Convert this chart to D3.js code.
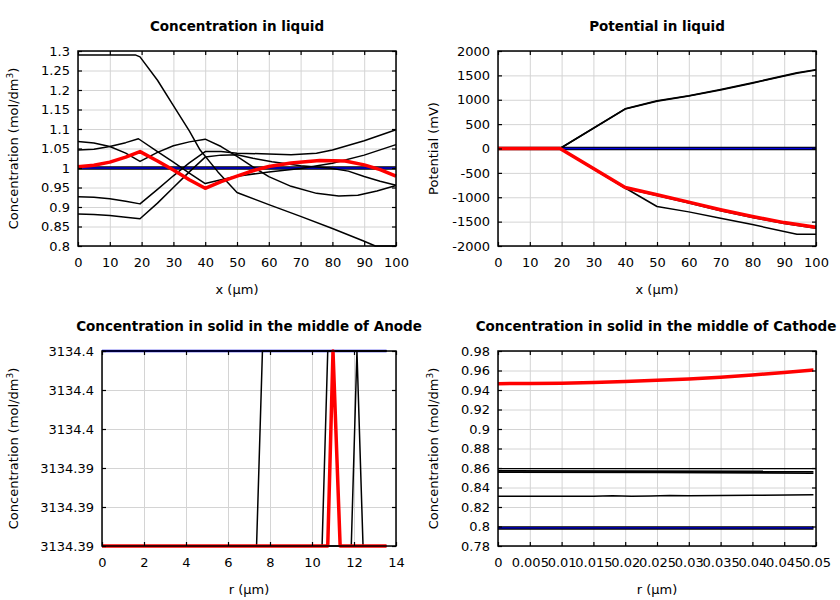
<!DOCTYPE html>
<html><head><meta charset="utf-8">
<script src="https://cdn.jsdelivr.net/npm/d3@7"></script>
<style>
body{margin:0;background:#fff}
text{font-family:"DejaVu Sans",sans-serif;fill:#000}
</style></head>
<body><svg id="c" width="840" height="600"></svg>
<script>
// ---------- Panel 1: Concentration in liquid ----------
const liqX = [0, 10, 20, 30, 40, 50, 60, 70, 80, 90, 100];
const liqTicksY = [0.8, 0.85, 0.9, 0.95, 1, 1.05, 1.1, 1.15, 1.2, 1.25, 1.3];
const liqInitial = [[0, 1], [100, 1]];
const liqA = [[0,1.068],[5,1.064],[10,1.055],[15,1.038],[19.5,1.017],[25,1.04],[30,1.057],[35,1.067],[40,1.074],[45,1.055],[50,1.03],[55,1.003],[60,0.978],[67,0.953],[75,0.935],[82,0.928],[88,0.93],[94,0.941],[100,0.955]];
const liqB = [[0,1.046],[5,1.048],[10,1.055],[15,1.065],[19,1.075],[25,1.042],[30,1.015],[35,0.987],[40,0.96],[45,0.97],[50,0.979],[60,0.99],[70,0.999],[80,1.012],[90,1.033],[100,1.06]];
const liqC = [[0,0.926],[5,0.925],[10,0.921],[15,0.915],[19.5,0.908],[25,0.945],[30,0.98],[35,1.013],[40,1.042],[45,1.042],[50,1.038],[60,1.036],[67,1.034],[75,1.038],[80,1.046],[90,1.07],[100,1.098]];
const liqD = [[0,0.882],[5,0.881],[10,0.878],[15,0.874],[19.5,0.870],[25,0.91],[30,0.95],[35,0.99],[40,1.028],[45,1.033],[50,1.034],[55,1.025],[61,1.016],[70,1.006],[79,1.0],[85,0.992],[90,0.978],[95,0.966],[100,0.956]];
const liqE = [[0,1.29],[18,1.29],[19.5,1.285],[25,1.225],[30,1.16],[35,1.095],[38.4,1.046],[44,0.99],[50,0.937],[51,0.934],[60,0.906],[70,0.876],[80,0.845],[90,0.812],[93.5,0.8],[100,0.8]];
const liqRed = [[0,1.003],[5,1.007],[10,1.015],[15,1.028],[19.5,1.042],[25,1.018],[30,0.995],[35,0.97],[40,0.948],[45,0.965],[50,0.979],[55,0.993],[60,1.004],[67,1.013],[76,1.019],[84,1.018],[90,1.008],[95,0.996],[100,0.979]];

// ---------- Panel 2: Potential in liquid ----------
const potTicksY = [-2000,-1500,-1000,-500,0,500,1000,1500,2000];
const potInitial = [[0,0],[100,0]];
const potUpper = [[0,0],[19.5,0],[40,810],[50,970],[60,1075],[70,1200],[80,1340],[94,1545],[100,1610]];
const potUpper2 = [[0,0],[19.5,0],[40,815],[50,978],[60,1082],[70,1208],[80,1348],[94,1552],[100,1618]];
const potLower = [[0,0],[19.5,0],[40,-810],[50,-1190],[60,-1300],[70,-1430],[80,-1560],[94,-1760],[100,-1760]];
const potUnderRed = [[0,0],[19.5,0],[40,-815],[50,-965],[60,-1120],[70,-1275],[80,-1415],[90,-1540],[100,-1635]];
const potRed = [[0,0],[19.5,0],[40,-800],[50,-950],[60,-1100],[70,-1255],[80,-1395],[90,-1520],[100,-1615]];

// ---------- Panel 3: Anode solid ----------
const anoX = [0, 2, 4, 6, 8, 10, 12, 14];
const anoTicksY = [3134.3944, 3134.3946, 3134.3948, 3134.395, 3134.3952, 3134.3954];
const anoTickLabels = ["3134.39", "3134.39", "3134.39", "3134.4", "3134.4", "3134.4"];
const L = 3134.3944, H = 3134.3954;
const anoBlue = [[0,H],[13.55,H]];
const ano1 = [[0,L],[7.36,L],[7.64,H],[13.55,H]];
const ano2 = [[0,L],[10.48,L],[10.75,H],[13.55,H]];
const ano3 = [[0,L],[11.87,L],[12.14,H],[12.43,L],[13.55,L]];
const anoRed = [[0,L],[10.75,L],[11.0,H],[11.34,L],[13.55,L]];

// ---------- Panel 4: Cathode solid ----------
const catX = [0,0.005,0.01,0.015,0.02,0.025,0.03,0.035,0.04,0.045,0.05];
const catTicksY = [0.78,0.8,0.82,0.84,0.86,0.88,0.9,0.92,0.94,0.96,0.98];
const catRed = [[0,0.9465],[0.005,0.9467],[0.01,0.947],[0.015,0.9477],[0.02,0.9487],[0.025,0.9499],[0.03,0.9514],[0.035,0.9532],[0.04,0.9554],[0.045,0.958],[0.0496,0.9605]];
const cat1 = [[0,0.8593],[0.05,0.8593]];
const cat2 = [[0,0.857],[0.0496,0.8565]];
const cat3 = [[0,0.8558],[0.025,0.8556],[0.0496,0.8548]];
const cat4 = [[0,0.831],[0.015,0.831],[0.018,0.8315],[0.021,0.831],[0.024,0.8314],[0.027,0.8318],[0.03,0.8316],[0.04,0.832],[0.0496,0.8325]];
const catInitial = [[0,0.7985],[0.0496,0.7985]];

const svg = d3.select("#c");

function panel(o){
  const g = svg.append("g").attr("transform",`translate(${o.x},${o.y})`);
  const w=o.w,h=o.h;
  const xs=d3.scaleLinear().domain(o.xd).range([0,w]);
  const ys=d3.scaleLinear().domain(o.yd).range([h,0]);
  // grid
  g.append("g").attr("transform",`translate(0,${h})`)
    .call(d3.axisBottom(xs).tickValues(o.xt).tickSize(-h).tickFormat(""))
    .call(a=>{a.select(".domain").remove();a.selectAll("line").attr("stroke","#d4d4d4");});
  g.append("g")
    .call(d3.axisLeft(ys).tickValues(o.yt).tickSize(-w).tickFormat(""))
    .call(a=>{a.select(".domain").remove();a.selectAll("line").attr("stroke","#d4d4d4");});
  // lines
  const line=d3.line().x(d=>xs(d[0])).y(d=>ys(d[1]));
  o.series.forEach(s=>{
    g.append("path").datum(s.d).attr("d",line).attr("fill","none")
     .attr("stroke",s.c).attr("stroke-width",s.w).attr("stroke-linejoin","round");
  });
  // axes with inward ticks
  const fs="13px";
  g.append("g").attr("transform",`translate(0,${h})`)
    .call(d3.axisBottom(xs).tickValues(o.xt).tickSize(-4).tickPadding(12).tickFormat(o.xf))
    .call(a=>{a.select(".domain").remove();a.selectAll("line").attr("stroke","#000").attr("stroke-width",1.2);
      a.selectAll("text").style("font-size",fs).style("font-family","DejaVu Sans").attr("fill","#000");});
  g.append("g")
    .call(d3.axisLeft(ys).tickValues(o.yt).tickSize(-4).tickPadding(8).tickFormat(o.yf))
    .call(a=>{a.select(".domain").remove();a.selectAll("line").attr("stroke","#000").attr("stroke-width",1.2);
      a.selectAll("text").style("font-size",fs).style("font-family","DejaVu Sans").attr("fill","#000");});
  g.append("g")
    .call(d3.axisTop(xs).tickValues(o.xt).tickSize(-4).tickFormat(""))
    .call(a=>{a.select(".domain").remove();a.selectAll("line").attr("stroke","#000").attr("stroke-width",1.2);});
  g.append("g").attr("transform",`translate(${w},0)`)
    .call(d3.axisRight(ys).tickValues(o.yt).tickSize(-4).tickFormat(""))
    .call(a=>{a.select(".domain").remove();a.selectAll("line").attr("stroke","#000").attr("stroke-width",1.2);});
  g.append("rect").attr("width",w).attr("height",h).attr("fill","none").attr("stroke","#000").attr("stroke-width",1.5);
  // title
  g.append("text").attr("x",o.tcx-o.x).attr("y",-20).attr("text-anchor","middle")
    .style("font-size","13.5px").style("font-weight","bold").text(o.title);
  // x label
  g.append("text").attr("x",w/2).attr("y",h+48).attr("text-anchor","middle")
    .style("font-size","13px").text(o.xl);
  // y label
  const yl=g.append("text").attr("transform",`translate(${o.ylx},${h/2}) rotate(-90)`)
    .attr("text-anchor","middle").style("font-size","13px");
  if(o.sup){
    yl.append("tspan").text(o.yl);
    yl.append("tspan").attr("dy",-5).style("font-size","9px").text("3");
    yl.append("tspan").attr("dy",5).text(")");
  } else yl.text(o.yl);
}

const fmtG = d=>String(+d.toFixed(4));
const K="#000", R="#ff0000", B="#0000e0";

panel({x:78,y:51,w:318,h:195,xd:[0,100],yd:[0.8,1.3],xt:liqX,yt:liqTicksY,
  xf:d=>String(d), yf:fmtG, title:"Concentration in liquid", tcx:237, xl:"x (μm)",
  yl:"Concentration (mol/dm", sup:true, ylx:-60,
  series:[{d:liqInitial,c:K,w:3.5},{d:liqInitial,c:B,w:1.6},
    {d:liqA,c:K,w:1.5},{d:liqB,c:K,w:1.5},{d:liqC,c:K,w:1.5},{d:liqD,c:K,w:1.5},{d:liqE,c:K,w:1.5},
    {d:liqRed,c:R,w:3.5}]});

panel({x:498,y:51,w:318,h:195,xd:[0,100],yd:[-2000,2000],xt:liqX,yt:potTicksY,
  xf:d=>String(d), yf:d=>String(d), title:"Potential in liquid", tcx:657, xl:"x (μm)",
  yl:"Potential (mV)", sup:false, ylx:-60,
  series:[{d:potInitial,c:K,w:3.5},{d:potInitial,c:B,w:1.6},
    {d:potUpper,c:K,w:1.5},{d:potUpper2,c:K,w:1.5},{d:potLower,c:K,w:1.5},{d:potUnderRed,c:K,w:1.5},
    {d:potRed,c:R,w:3.5}]});

panel({x:102,y:351,w:294,h:195,xd:[0,14],yd:[L,H],xt:anoX,yt:anoTicksY,
  xf:d=>String(d), yf:(d,i)=>anoTickLabels[i], title:"Concentration in solid in the middle of Anode", tcx:249,
  xl:"r (μm)", yl:"Concentration (mol/dm", sup:true, ylx:-84,
  series:[{d:anoBlue,c:B,w:2.5},
    {d:ano1,c:K,w:1.5},{d:ano2,c:K,w:1.5},{d:ano3,c:K,w:1.5},
    {d:anoRed,c:R,w:3.5}]});

panel({x:498,y:351,w:318,h:195,xd:[0,0.05],yd:[0.78,0.98],xt:catX,yt:catTicksY,
  xf:d=>d===0?"0":String(+d.toFixed(3)), yf:fmtG, title:"Concentration in solid in the middle of Cathode", tcx:656,
  xl:"r (μm)", yl:"Concentration (mol/dm", sup:true, ylx:-60,
  series:[{d:catInitial,c:K,w:3.5},{d:catInitial,c:B,w:1.2},
    {d:cat1,c:K,w:1.2},{d:cat2,c:K,w:1.8},{d:cat3,c:K,w:1.8},{d:cat4,c:K,w:1.5},
    {d:catRed,c:R,w:3.5}]});
</script>
</body></html>
